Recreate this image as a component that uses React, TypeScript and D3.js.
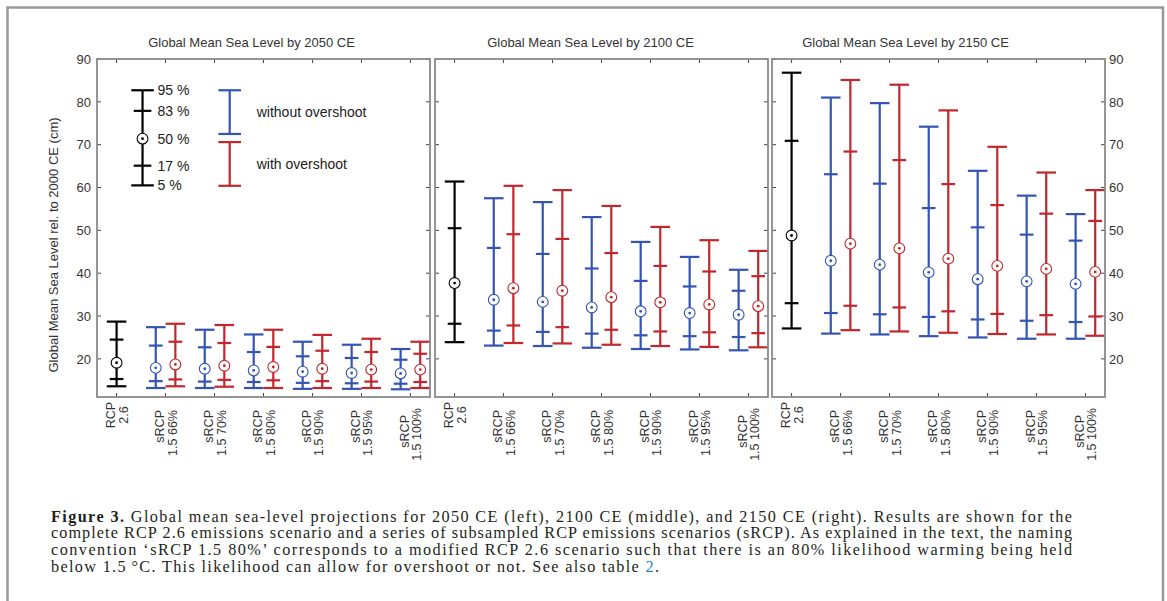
import { useMemo } from 'react';
import * as d3 from 'd3';

// panel titles / years
const years = ['2050', '2100', '2150'];

// x tick labels (two lines each)
const scenarioLines = [
  ['RCP', '2.6'],
  ['sRCP', '1.5 66%'],
  ['sRCP', '1.5 70%'],
  ['sRCP', '1.5 80%'],
  ['sRCP', '1.5 90%'],
  ['sRCP', '1.5 95%'],
  ['sRCP', '1.5 100%'],
];

// every entry: [5 %, 17 %, 50 %, 83 %, 95 %] in cm
const rcp2050 = [13.6, 15.3, 19.1, 24.5, 28.7];
const without2050 = [
  [13.2, 14.8, 17.9, 23.1, 27.4],
  [13.2, 14.7, 17.7, 22.7, 26.8],
  [13.2, 14.6, 17.3, 21.6, 25.7],
  [13.0, 14.4, 17.0, 20.6, 24.0],
  [13.0, 14.3, 16.7, 20.2, 23.3],
  [12.9, 14.2, 16.6, 19.8, 22.3],
];
const with2050 = [
  [13.6, 15.2, 18.7, 24.0, 28.2],
  [13.5, 15.1, 18.4, 23.7, 27.9],
  [13.2, 15.0, 18.1, 22.8, 26.8],
  [13.2, 14.8, 17.7, 21.9, 25.6],
  [13.2, 14.7, 17.5, 21.6, 24.7],
  [13.2, 14.6, 17.5, 21.2, 24.0],
];

const rcp2100 = [23.9, 28.2, 37.7, 50.5, 61.4];
const without2100 = [
  [23.1, 26.6, 33.8, 45.9, 57.5],
  [23.0, 26.3, 33.3, 44.5, 56.6],
  [22.6, 25.9, 32.0, 41.1, 53.1],
  [22.3, 25.5, 31.1, 38.2, 47.3],
  [22.2, 25.3, 30.7, 36.9, 43.8],
  [22.0, 25.1, 30.3, 35.9, 40.8],
];
const with2100 = [
  [23.7, 27.8, 36.5, 49.1, 60.4],
  [23.6, 27.4, 35.9, 48.0, 59.4],
  [23.3, 26.8, 34.4, 44.7, 55.7],
  [23.0, 26.4, 33.2, 41.7, 50.8],
  [22.8, 26.2, 32.7, 40.4, 47.7],
  [22.7, 26.0, 32.3, 39.3, 45.2],
];

const rcp2150 = [27.1, 33.0, 48.8, 70.9, 86.8];
const without2150 = [
  [25.9, 30.7, 42.9, 63.1, 81.0],
  [25.7, 30.4, 42.0, 60.9, 79.7],
  [25.3, 29.8, 40.2, 55.2, 74.2],
  [25.0, 29.2, 38.6, 50.7, 63.9],
  [24.7, 28.9, 38.1, 49.0, 58.1],
  [24.7, 28.6, 37.5, 47.6, 53.8],
];
const with2150 = [
  [26.7, 32.4, 46.9, 68.4, 85.1],
  [26.4, 32.0, 45.8, 66.4, 84.0],
  [26.1, 31.1, 43.4, 60.8, 78.0],
  [25.8, 30.5, 41.7, 55.9, 69.5],
  [25.7, 30.2, 41.0, 53.9, 63.5],
  [25.4, 29.9, 40.3, 52.2, 59.4],
];

const rcpAll = [rcp2050, rcp2100, rcp2150];
const withoutAll = [without2050, without2100, without2150];
const withAll = [with2050, with2100, with2150];

const yTicks = [20, 30, 40, 50, 60, 70, 80, 90];
const xTicks = [1, 2, 3, 4, 5, 6, 7];

// legend (drawn in the first panel, data units)
const legendQuantiles = [60.5, 65.1, 71.4, 77.9, 82.7];
const legendQuantileLabels = ['5 %', '17 %', '50 %', '83 %', '95 %'];
const legendWithout = [72.5, 82.7];
const legendWith = [60.4, 70.6];

const BLACK = '#000000';
const BLUE = '#3454b4';
const RED = '#c1272d';
const BOX = '#8a8a8a';
const TEXT = '#333333';
const FONT = 'Liberation Sans, Arial, sans-serif';

const panelLeft = [97, 435, 772];
const panelWidth = 333;
const top = 59;
const bottom = 397;
const titleShift = [-12, -11, -33];

type Scale = d3.ScaleLinear<number, number>;

const ErrorBar = ({
  x,
  q,
  color,
  xScale,
  yScale,
  cap = 0.2,
  mid = 0.14,
  full = true,
}: {
  x: number;
  q: number[];
  color: string;
  xScale: Scale;
  yScale: Scale;
  cap?: number;
  mid?: number;
  full?: boolean;
}) => {
  const cx = xScale(x);
  const capW = xScale(x + cap) - cx;
  const midW = xScale(x + mid) - cx;
  const lo = q[0];
  const hi = q[q.length - 1];
  return (
    <g stroke={color} strokeWidth={2.2} fill="none">
      <line x1={cx} x2={cx} y1={yScale(lo)} y2={yScale(hi)} />
      <line x1={cx - capW} x2={cx + capW} y1={yScale(lo)} y2={yScale(lo)} />
      <line x1={cx - capW} x2={cx + capW} y1={yScale(hi)} y2={yScale(hi)} />
      {full && (
        <>
          <line x1={cx - midW} x2={cx + midW} y1={yScale(q[1])} y2={yScale(q[1])} />
          <line x1={cx - midW} x2={cx + midW} y1={yScale(q[3])} y2={yScale(q[3])} />
          <circle cx={cx} cy={yScale(q[2])} r={5.4} fill="white" strokeWidth={1.1} />
          <circle cx={cx} cy={yScale(q[2])} r={1.4} fill={color} stroke="none" />
        </>
      )}
    </g>
  );
};

const Panel = ({ index }: { index: number }) => {
  const left = panelLeft[index];
  const right = left + panelWidth;

  const xScale = useMemo(() => {
    return d3.scaleLinear().domain([0.6, 7.4]).range([left, right]);
  }, [left, right]);

  const yScale = useMemo(() => {
    return d3.scaleLinear().domain([11.1, 90]).range([bottom, top]);
  }, []);

  const tick = 4;

  return (
    <g>
      <text
        x={(left + right) / 2 + titleShift[index]}
        y={47}
        textAnchor="middle"
        fontSize={13}
        fill={TEXT}
        fontFamily={FONT}
      >
        {`Global Mean Sea Level by ${years[index]} CE`}
      </text>

      {/* tick marks on all four sides, pointing inward */}
      <g stroke="#444" strokeWidth={1}>
        {yTicks.map((t) => (
          <g key={'y' + t}>
            <line x1={left} x2={left + tick} y1={yScale(t)} y2={yScale(t)} />
            <line x1={right - tick} x2={right} y1={yScale(t)} y2={yScale(t)} />
          </g>
        ))}
        {xTicks.map((t) => (
          <g key={'x' + t}>
            <line x1={xScale(t)} x2={xScale(t)} y1={top} y2={top + tick} />
            <line x1={xScale(t)} x2={xScale(t)} y1={bottom - tick} y2={bottom} />
          </g>
        ))}
      </g>

      {/* y tick labels: left of the first panel, right of the last one */}
      {index === 0 &&
        yTicks.map((t) => (
          <text
            key={'yl' + t}
            x={left - 6}
            y={yScale(t)}
            dy="0.36em"
            textAnchor="end"
            fontSize={13}
            fill={TEXT}
            fontFamily={FONT}
          >
            {t}
          </text>
        ))}
      {index === 2 &&
        yTicks.map((t) => (
          <text
            key={'yr' + t}
            x={right + 4}
            y={yScale(t)}
            dy="0.36em"
            textAnchor="start"
            fontSize={13}
            fill={TEXT}
            fontFamily={FONT}
          >
            {t}
          </text>
        ))}

      {/* x tick labels, rotated */}
      {scenarioLines.map((lines, i) => {
        const tx = xScale(xTicks[i]);
        const isRcp = i === 0;
        const isLong = lines[1].length > 7;
        return (
          <g key={'xl' + i} fontSize={12.5} fill={TEXT} fontFamily={FONT}>
            {lines.map((ln, j) => {
              const lx = tx + (j === 0 ? -6 : 6.5);
              let ly = 410;
              if (isRcp) ly = 415;
              else if (isLong) ly = j === 0 ? 415 : 408;
              return (
                <text
                  key={j}
                  x={lx}
                  y={ly}
                  dy="0.36em"
                  transform={`rotate(-90, ${lx}, ${ly})`}
                  textAnchor={isRcp ? 'middle' : 'end'}
                >
                  {ln}
                </text>
              );
            })}
          </g>
        );
      })}

      {/* error bars */}
      <ErrorBar x={1} q={rcpAll[index]} color={BLACK} xScale={xScale} yScale={yScale} />
      {withoutAll[index].map((q, i) => (
        <ErrorBar key={'b' + i} x={xTicks[i + 1] - 0.2} q={q} color={BLUE} xScale={xScale} yScale={yScale} />
      ))}
      {withAll[index].map((q, i) => (
        <ErrorBar key={'r' + i} x={xTicks[i + 1] + 0.2} q={q} color={RED} xScale={xScale} yScale={yScale} />
      ))}

      {/* legend */}
      {index === 0 && (
        <g>
          <ErrorBar
            x={1.53}
            q={legendQuantiles}
            color={BLACK}
            xScale={xScale}
            yScale={yScale}
            cap={0.23}
            mid={0.18}
          />
          {legendQuantileLabels.map((lab, i) => (
            <text
              key={lab}
              x={xScale(1.53) + 15}
              y={yScale(legendQuantiles[i])}
              dy="0.36em"
              fontSize={14}
              fill="#222"
              fontFamily={FONT}
            >
              {lab}
            </text>
          ))}
          <ErrorBar x={3.31} q={legendWithout} color={BLUE} xScale={xScale} yScale={yScale} cap={0.23} full={false} />
          <ErrorBar x={3.31} q={legendWith} color={RED} xScale={xScale} yScale={yScale} cap={0.23} full={false} />
          <text
            x={xScale(3.31) + 27}
            y={yScale(d3.mean(legendWithout) as number)}
            dy="0.36em"
            fontSize={14}
            fill="#222"
            fontFamily={FONT}
          >
            without overshoot
          </text>
          <text
            x={xScale(3.31) + 27}
            y={yScale(d3.mean(legendWith) as number)}
            dy="0.36em"
            fontSize={14}
            fill="#222"
            fontFamily={FONT}
          >
            with overshoot
          </text>
        </g>
      )}

      <rect
        x={left}
        y={top}
        width={panelWidth}
        height={bottom - top}
        fill="none"
        stroke={BOX}
        strokeWidth={1.8}
      />
    </g>
  );
};

const captionLines = [
  'Global mean sea-level projections for 2050 CE (left), 2100 CE (middle), and 2150 CE (right). Results are shown for the',
  'complete RCP 2.6 emissions scenario and a series of subsampled RCP emissions scenarios (sRCP). As explained in the text, the naming',
  'convention \u2018sRCP 1.5 80%\u2019 corresponds to a modified RCP 2.6 scenario such that there is an 80% likelihood warming being held',
  'below 1.5\u2009\u00b0C. This likelihood can allow for overshoot or not. See also table ',
];

const Caption = () => {
  const serif = 'Liberation Serif, Times New Roman, serif';
  const x0 = 51;
  const y0 = 521.5;
  const lh = 16.7;
  return (
    <g fontFamily={serif} fontSize={16.2} fill="#231f20">
      <text x={x0} y={y0} textLength={1021} lengthAdjust="spacing">
        <tspan fontWeight="bold">Figure 3.</tspan> {captionLines[0]}
      </text>
      <text x={x0} y={y0 + lh} textLength={1021} lengthAdjust="spacing">
        {captionLines[1]}
      </text>
      <text x={x0} y={y0 + 2 * lh} textLength={1021} lengthAdjust="spacing">
        {captionLines[2]}
      </text>
      <text x={x0} y={y0 + 3 * lh} textLength={608} lengthAdjust="spacing">
        {captionLines[3]}
        <tspan fill="#1b86c0">2</tspan>.
      </text>
    </g>
  );
};

export default function App() {
  return (
    <svg
      width={1167}
      height={601}
      style={{ position: 'absolute', left: 0, top: 0, background: 'white' }}
    >
      <rect x={0} y={0} width={1167} height={601} fill="white" />
      <rect x={7.5} y={7.5} width={1155.5} height={640} fill="none" stroke="#999" strokeWidth={2.5} />
      <text
        x={53}
        y={245}
        dy="0.36em"
        transform="rotate(-90, 53, 245)"
        textAnchor="middle"
        fontSize={13}
        fill={TEXT}
        fontFamily={FONT}
      >
        Global Mean Sea Level rel. to 2000 CE (cm)
      </text>
      {[0, 1, 2].map((i) => (
        <Panel key={i} index={i} />
      ))}
      <Caption />
    </svg>
  );
}
